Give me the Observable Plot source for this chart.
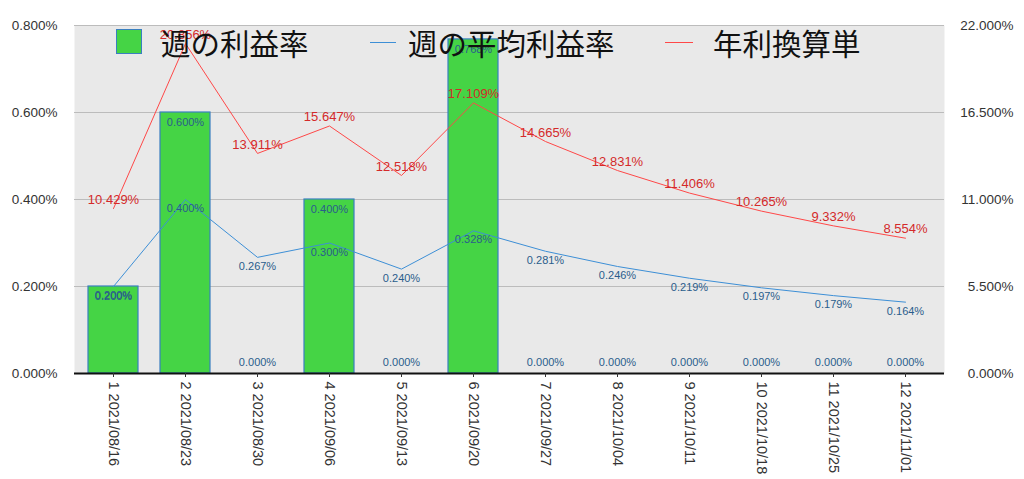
<!DOCTYPE html>
<html>
<head>
<meta charset="utf-8">
<script src="https://cdn.jsdelivr.net/npm/d3@7"></script>
<script src="https://cdn.jsdelivr.net/npm/@observablehq/plot@0.6"></script>
<style>
  html, body { margin: 0; padding: 0; background: #fff; }
  #wrap { position: relative; width: 1024px; height: 479px; font-family: "Liberation Sans", Arial, sans-serif; }
  .lg { position: absolute; font-family: "Noto Sans CJK JP", sans-serif; font-size: 29.5px; line-height: 30px; color: #111; white-space: nowrap; }
  .sw { position: absolute; }
</style>
</head>
<body>
<div id="wrap"></div>
<script>
const weeks = ["1 2021/08/16","2 2021/08/23","3 2021/08/30","4 2021/09/06","5 2021/09/13","6 2021/09/20","7 2021/09/27","8 2021/10/04","9 2021/10/11","10 2021/10/18","11 2021/10/25","12 2021/11/01"];
const weeklyRate = [0.200, 0.600, 0.000, 0.400, 0.000, 0.768, 0.000, 0.000, 0.000, 0.000, 0.000, 0.000];
const avgRate = [0.200, 0.400, 0.267, 0.300, 0.240, 0.328, 0.281, 0.246, 0.219, 0.197, 0.179, 0.164];
const annualRate = [10.429, 20.856, 13.911, 15.647, 12.518, 17.109, 14.665, 12.831, 11.406, 10.265, 9.332, 8.554];
const leftTicks = [0, 0.2, 0.4, 0.6, 0.8];
const leftMax = 0.8, rightMax = 22;
const seriesNames = ["週の利益率", "週の平均利益率", "年利換算単"];

const data = weeks.map((w, i) => ({
  week: w,
  weekly: weeklyRate[i],
  avg: avgRate[i],
  annual: annualRate[i],
  annualScaled: annualRate[i] * leftMax / rightMax
}));
const fmt = v => v.toFixed(3) + "%";

const chart = Plot.plot({
  width: 1024,
  height: 479,
  marginLeft: 74,
  marginRight: 80,
  marginTop: 25,
  marginBottom: 106,
  style: { fontFamily: "Liberation Sans, Arial, sans-serif", fontSize: "13px", color: "#333", background: "transparent" },
  x: { type: "band", domain: weeks, paddingInner: 0.3, paddingOuter: 0.13, label: null },
  y: { domain: [0, leftMax], label: null },
  marks: [
    Plot.frame({ fill: "#e9e9e9", stroke: null }),
    Plot.gridY(leftTicks, { stroke: "#bcbcbc", strokeOpacity: 1, strokeWidth: 1 }),
    Plot.barY(data, { x: "week", y: "weekly", fill: "#45d445", stroke: "#3a7fc0", strokeWidth: 1.2 }),
    Plot.ruleY([0], { stroke: "#111", strokeWidth: 2 }),
    Plot.lineY(data, { x: "week", y: "avg", stroke: "#3d8fd6", strokeWidth: 1 }),
    Plot.lineY(data, { x: "week", y: "annualScaled", stroke: "#ff4848", strokeWidth: 1 }),
    Plot.text(data.filter(d => d.weekly > 0), { x: "week", y: "weekly", text: d => fmt(d.weekly), dy: 10, fill: "#2a5d8c", fontSize: 11 }),
    Plot.text(data.filter(d => d.weekly === 0), { x: "week", y: "weekly", text: d => fmt(d.weekly), dy: -11, fill: "#2a5d8c", fontSize: 11 }),
    Plot.text(data, { x: "week", y: "avg", text: d => fmt(d.avg), dy: 9, fill: "#2a5d8c", fontSize: 11 }),
    Plot.text(data, { x: "week", y: "annualScaled", text: d => fmt(d.annual), dy: -9, fill: "#d42a2a", fontSize: 13 }),
    Plot.axisY({ anchor: "left", ticks: leftTicks, tickFormat: fmt, tickSize: 0, tickPadding: 17, label: null, fill: "#333", fontSize: 13.5 }),
    Plot.axisY({ anchor: "right", ticks: leftTicks, tickFormat: d => fmt(d * rightMax / leftMax), tickSize: 0, tickPadding: 3, textAnchor: "end", dx: 66, label: null, fill: "#333", fontSize: 13.5 }),
    Plot.axisX({ tickRotate: 90, tickSize: 4, tickPadding: 4, label: null, fontSize: 14.5, fill: "#333" })
  ]
});

const wrap = document.getElementById("wrap");
wrap.appendChild(chart);

// legend overlay
function add(el) { wrap.appendChild(el); return el; }
const sq = document.createElement("div");
sq.className = "sw";
Object.assign(sq.style, { left: "116px", top: "29px", width: "24px", height: "23px", background: "#45d445", border: "1.5px solid #3a7fc0" });
add(sq);
const t1 = document.createElement("div"); t1.className = "lg"; t1.textContent = seriesNames[0];
Object.assign(t1.style, { left: "161px", top: "27px" }); add(t1);
const l2 = document.createElement("div"); l2.className = "sw";
Object.assign(l2.style, { left: "370px", top: "42px", width: "26px", height: "1px", background: "#3d8fd6" }); add(l2);
const t2 = document.createElement("div"); t2.className = "lg"; t2.textContent = seriesNames[1];
Object.assign(t2.style, { left: "408px", top: "27px" }); add(t2);
const l3 = document.createElement("div"); l3.className = "sw";
Object.assign(l3.style, { left: "665px", top: "42px", width: "28px", height: "1px", background: "#ff4848" }); add(l3);
const t3 = document.createElement("div"); t3.className = "lg"; t3.textContent = seriesNames[2];
Object.assign(t3.style, { left: "713px", top: "27px" }); add(t3);
</script>
</body>
</html>
